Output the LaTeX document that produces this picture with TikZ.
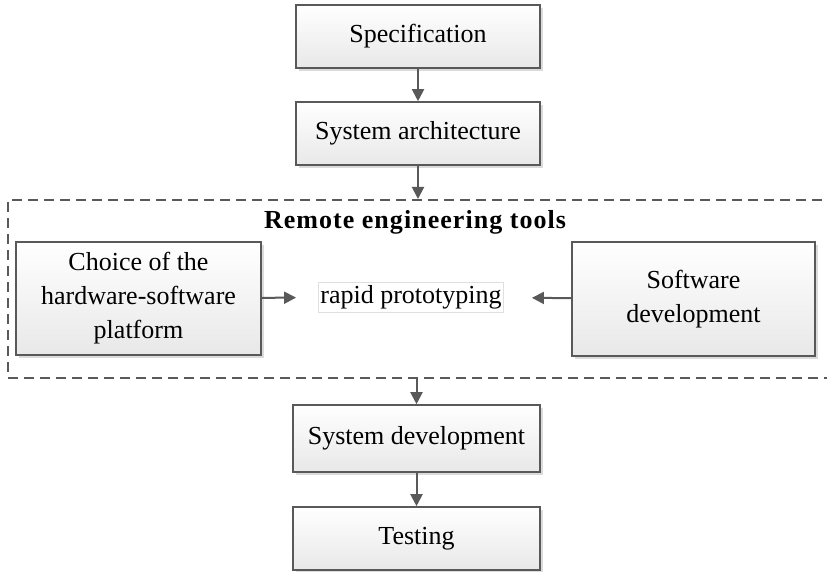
\documentclass[tikz,border=0pt]{standalone}
\usepackage{fontspec}
\setmainfont{Liberation Serif}
\newfontfamily\titlefont{Liberation Serif}[LetterSpace=4]
\usetikzlibrary{arrows.meta,shadows}
\definecolor{linegray}{HTML}{595959}
\tikzset{
	stage/.style={draw=linegray, line width=1.6pt, top color=white, bottom color=gray!18, drop shadow={shadow xshift=3pt, shadow yshift=-3pt, fill=gray!40, opacity=.7}, align=center, inner sep=0pt},
	flow/.style={->, draw=linegray, line width=2pt},
}
\begin{document}
\begin{tikzpicture}[x=1pt, y=-1pt, >={Triangle[length=12pt,width=12pt]}, font=\fontsize{26}{34}\selectfont]
		\useasboundingbox (0,0) rectangle (827,572);
		% dashed frame of the tools
		\node[draw=linegray, line width=2pt, dash pattern=on 10pt off 6pt, minimum width=822pt, minimum height=178pt, inner sep=0pt] (tools) at (419,289) {};
		\node[font=\titlefont\bfseries\fontsize{26}{30}\selectfont] (title) at (415,222) {Remote engineering tools};
		\node[stage, minimum width=244pt, minimum height=63pt] (spec) at (418,36.5) {Specification};
		\node[stage, minimum width=244pt, minimum height=63pt] (arch) at (418,133.5) {System architecture};
		\node[stage, minimum width=245pt, minimum height=113pt] (choice) at (138.5,298.5) {Choice of the\\hardware-software\\platform};
		\node[draw=gray!25, line width=.6pt, inner xsep=2pt, inner ysep=3pt] (rapid) at (411,297) {rapid prototyping};
		\node[stage, minimum width=243pt, minimum height=114pt] (soft) at (693.5,299) {Software\\development};
		\node[stage, minimum width=247pt, minimum height=67pt] (sysdev) at (416.5,438.5) {System development};
		\node[stage, minimum width=247pt, minimum height=63pt] (test) at (416.5,538.5) {Testing};
		\begin{scope}
			\draw[flow] (spec) -- (arch);
			\draw[flow] (arch) -- (arch |- tools.north);
			\draw[flow, shorten >=22pt] (choice) -- (rapid);
			\draw[flow, shorten >=28pt] (soft) -- (rapid);
			\draw[flow] (sysdev |- tools.south) -- (sysdev);
			\draw[flow] (sysdev) -- (test);
		\end{scope}
	\end{tikzpicture}
\end{document}
